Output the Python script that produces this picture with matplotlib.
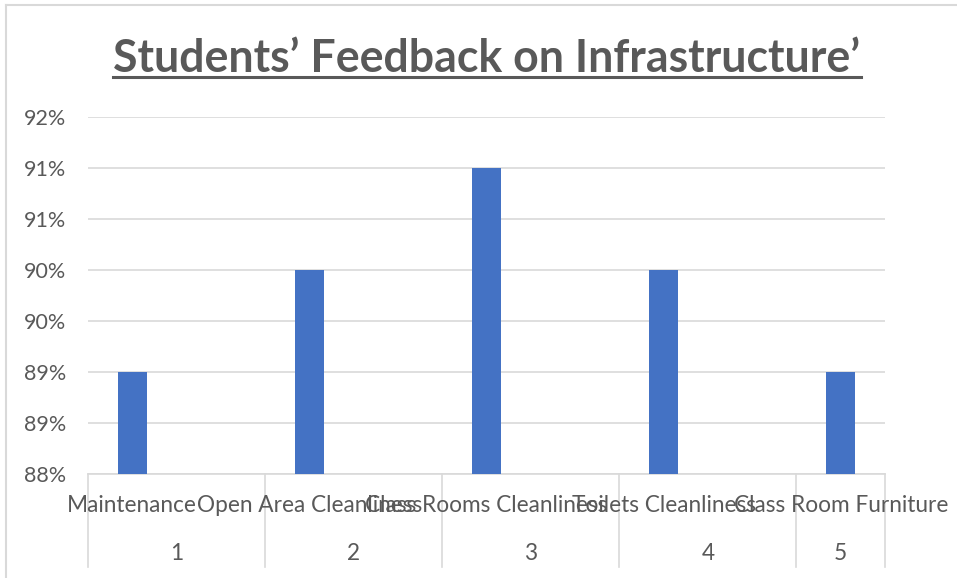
import matplotlib
matplotlib.use('Agg')
import matplotlib.pyplot as plt
from matplotlib.lines import Line2D
import numpy as np

# ---- data ----
categories = ['Maintenance', 'Open Area Cleanliness', 'Class Rooms Cleanliness',
              'Toilets Cleanliness', 'Class Room Furniture']
group_labels = ['1', '2', '3', '4', '5']
values = [0.8914, 0.9029, 0.9143, 0.9029, 0.8914]
y_tick_labels = ['88%', '89%', '89%', '90%', '90%', '91%', '91%', '92%']
title = 'Students\u2019 Feedback on Infrastructure\u2019'

TXT = '#595959'
GRID = '#D9D9D9'
BAR = '#4472C4'
FONT = 'Lato'

W, H = 957, 578
fig = plt.figure(figsize=(W / 100, H / 100), dpi=100)
fig.patch.set_facecolor('white')

# chart border (top & left visible)
fig.add_artist(Line2D([6 / W, 1.0], [1 - 5 / H, 1 - 5 / H], transform=fig.transFigure,
                      color=GRID, lw=1.5))
fig.add_artist(Line2D([6 / W, 6 / W], [0, 1 - 5 / H], transform=fig.transFigure,
                      color=GRID, lw=1.5))

left, right, top, bottom = 88, 885, 117, 474
ax = fig.add_axes([left / W, 1 - bottom / H, (right - left) / W, (bottom - top) / H])

n = len(categories)
slots = 2 * n - 1  # last group has a single slot
xpos = [2 * i + 0.5 for i in range(n)]
ax.bar(xpos, values, width=0.33, color=BAR, zorder=3)

ax.set_xlim(0, slots)
ax.set_ylim(0.88, 0.92)
yt = np.linspace(0.88, 0.92, len(y_tick_labels))
ax.set_yticks(yt)
ax.set_yticklabels(y_tick_labels, fontsize=15.5, color=TXT, family=FONT)
ax.tick_params(axis='y', length=0, pad=16)
ax.set_xticks([])
ax.grid(axis='y', color=GRID, lw=1.2, zorder=0)
for s in ['top', 'right', 'left']:
    ax.spines[s].set_visible(False)
ax.spines['bottom'].set_color(GRID)
ax.spines['bottom'].set_linewidth(1.2)

# multi-level category axis
trans = ax.get_xaxis_transform()
px = 1.0 / (bottom - top)  # one pixel in axes-y units
for i, name in enumerate(categories):
    ax.text(xpos[i], -31 * px, name, transform=trans, ha='center', va='center',
            fontsize=16.3, color=TXT, family=FONT, clip_on=False)
for i, g in enumerate(group_labels):
    start = 2 * i
    end = min(2 * i + 2, slots)
    ax.text((start + end) / 2, -79 * px, g, transform=trans, ha='center', va='center',
            fontsize=16.3, color=TXT, family=FONT, clip_on=False)
for xb in list(range(0, slots, 2)) + [slots]:
    ax.add_line(Line2D([xb, xb], [0, -(567 - bottom) * px], transform=trans,
                       color=GRID, lw=1.2, clip_on=False))

# title, fitted to target width, underlined
t = fig.text((113 + 861) / 2 / W, 1 - 72 / H, title, ha='center', va='baseline',
             fontsize=34, fontweight='bold', color=TXT, family=FONT)
fig.canvas.draw()
r = fig.canvas.get_renderer()
bb = t.get_window_extent(r)
t.set_fontsize(34 * 747 / bb.width)
fig.canvas.draw()
bb = t.get_window_extent(r)
fig.add_artist(Line2D([bb.x0 / W, bb.x1 / W], [1 - 77 / H, 1 - 77 / H],
                      transform=fig.transFigure, color=TXT, lw=2.2))

fig.savefig('out.png', dpi=100, facecolor='white')
